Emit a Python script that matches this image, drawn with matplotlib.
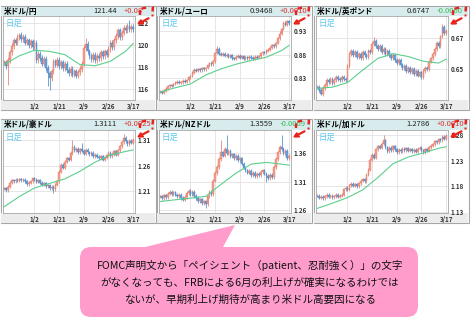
import numpy as np
import matplotlib.pyplot as plt
from matplotlib.patches import Rectangle, FancyBboxPatch, Polygon

plt.rcParams['font.family'] = ['Noto Sans CJK JP', 'DejaVu Sans']

W, H = 474, 321

titles = ['米ドル/円', '米ドル/ユーロ', '米ドル/英ポンド', '米ドル/豪ドル', '米ドル/NZドル', '米ドル/加ドル']
prices = ['121.44', '0.9468', '0.6747', '1.3111', '1.3559', '1.2786']
changes = ['+0.08', '+0.0010', '-0.0060', '+0.0025', '-0.0009', '+0.0010']

date_labels = ['1/2', '1/21', '2/9', '2/26', '3/17']
date_idx = [16, 29, 42, 55, 68]
ma_idx = [0, 8, 16, 24, 32, 40, 48, 56, 64, 68]

# daily closes
jpy_close = [118.4, 118.1, 118.6, 119.3, 119.9, 120.4, 120.2, 120.7, 120.9, 120.5,
             120.7, 120.2, 120.4, 120.0, 120.3, 119.8, 120.2, 118.6, 119.2, 118.8,
             118.3, 118.7, 117.9, 117.4, 117.0, 117.6, 118.5, 118.2, 118.6, 118.1,
             118.4, 117.9, 118.3, 117.7, 117.4, 117.8, 117.3, 117.6, 117.2, 117.5,
             117.8, 118.3, 119.7, 120.1, 119.4, 119.0, 118.7, 119.1, 118.6, 119.0,
             118.8, 119.3, 119.0, 119.4, 119.1, 119.6, 120.2, 119.8, 120.4, 120.8,
             121.3, 120.7, 121.1, 121.5, 121.3, 121.7, 121.4, 121.6, 121.44]
eur_close = [0.802, 0.799, 0.804, 0.808, 0.813, 0.816, 0.814, 0.818, 0.821, 0.823,
             0.820, 0.822, 0.825, 0.823, 0.826, 0.832, 0.835, 0.842, 0.848, 0.846,
             0.849, 0.847, 0.851, 0.849, 0.852, 0.858, 0.862, 0.860, 0.866, 0.884,
             0.893, 0.882, 0.880, 0.882, 0.878, 0.880, 0.876, 0.879, 0.873, 0.871,
             0.876, 0.878, 0.874, 0.877, 0.872, 0.875, 0.873, 0.876, 0.874, 0.872,
             0.876, 0.874, 0.877, 0.883, 0.886, 0.884, 0.889, 0.891, 0.895, 0.900,
             0.898, 0.905, 0.915, 0.925, 0.935, 0.948, 0.944, 0.951, 0.9468]
gbp_close = [0.639, 0.637, 0.634, 0.638, 0.640, 0.643, 0.642, 0.644, 0.641, 0.643,
             0.645, 0.644, 0.643, 0.645, 0.644, 0.643, 0.652, 0.660, 0.662, 0.659,
             0.661, 0.658, 0.660, 0.657, 0.661, 0.659, 0.658, 0.662, 0.661, 0.666,
             0.668, 0.665, 0.663, 0.665, 0.661, 0.663, 0.660, 0.662, 0.659, 0.657,
             0.659, 0.656, 0.654, 0.656, 0.653, 0.651, 0.652, 0.649, 0.651, 0.648,
             0.650, 0.647, 0.649, 0.646, 0.648, 0.645, 0.649, 0.651, 0.650, 0.655,
             0.657, 0.660, 0.663, 0.667, 0.665, 0.671, 0.677, 0.673, 0.6747]
aud_close = [1.215, 1.212, 1.218, 1.226, 1.231, 1.229, 1.232, 1.230, 1.233, 1.231,
             1.232, 1.229, 1.223, 1.226, 1.229, 1.235, 1.232, 1.228, 1.231, 1.226,
             1.222, 1.225, 1.219, 1.221, 1.215, 1.218, 1.213, 1.222, 1.229, 1.248,
             1.262, 1.256, 1.268, 1.275, 1.272, 1.285, 1.297, 1.290, 1.293, 1.287,
             1.292, 1.289, 1.284, 1.291, 1.286, 1.283, 1.285, 1.279, 1.282, 1.278,
             1.275, 1.279, 1.272, 1.276, 1.281, 1.285, 1.279, 1.283, 1.288, 1.282,
             1.290, 1.298, 1.306, 1.315, 1.308, 1.302, 1.309, 1.305, 1.3111]
nzd_close = [1.284, 1.281, 1.286, 1.283, 1.289, 1.292, 1.288, 1.291, 1.287, 1.284,
             1.287, 1.281, 1.278, 1.283, 1.290, 1.294, 1.288, 1.292, 1.285, 1.281,
             1.276, 1.279, 1.272, 1.275, 1.270, 1.284, 1.292, 1.288, 1.312, 1.325,
             1.336, 1.350, 1.362, 1.356, 1.368, 1.360, 1.364, 1.355, 1.358, 1.352,
             1.356, 1.348, 1.351, 1.342, 1.335, 1.330, 1.326, 1.329, 1.322, 1.325,
             1.320, 1.324, 1.321, 1.327, 1.330, 1.324, 1.320, 1.316, 1.322, 1.318,
             1.336, 1.350, 1.362, 1.372, 1.368, 1.360, 1.364, 1.352, 1.3559]
cad_close = [1.162, 1.158, 1.160, 1.157, 1.161, 1.163, 1.160, 1.162, 1.159, 1.161,
             1.163, 1.160, 1.162, 1.164, 1.174, 1.177, 1.173, 1.182, 1.185, 1.181,
             1.184, 1.180, 1.186, 1.191, 1.194, 1.190, 1.203, 1.212, 1.232, 1.241,
             1.236, 1.252, 1.258, 1.255, 1.263, 1.270, 1.256, 1.248, 1.255, 1.250,
             1.258, 1.252, 1.246, 1.251, 1.248, 1.253, 1.250, 1.254, 1.249, 1.252,
             1.248, 1.251, 1.247, 1.253, 1.255, 1.250, 1.246, 1.252, 1.249, 1.256,
             1.259, 1.262, 1.268, 1.266, 1.272, 1.270, 1.276, 1.273, 1.2786]

# moving average (green line) at ma_idx
jpy_ma = [118.2, 119.0, 119.5, 119.4, 119.1, 118.2, 118.1, 118.5, 119.4, 120.1]
eur_ma = [0.801, 0.810, 0.818, 0.837, 0.850, 0.860, 0.868, 0.875, 0.889, 0.900]
gbp_ma = [0.6378, 0.6386, 0.6415, 0.6495, 0.6570, 0.6600, 0.6582, 0.6552, 0.6540, 0.6565]
aud_ma = [1.179, 1.199, 1.216, 1.225, 1.234, 1.249, 1.267, 1.281, 1.288, 1.291]
nzd_ma = [1.275, 1.278, 1.281, 1.284, 1.305, 1.325, 1.341, 1.344, 1.341, 1.339]
cad_ma = [1.137, 1.147, 1.158, 1.173, 1.197, 1.224, 1.237, 1.245, 1.254, 1.257]

# long wicks
jpy_hi = {8: 121.1, 43: 120.6, 66: 122.2}
jpy_lo = {2: 116.4, 23: 116.3, 24: 115.9}
eur_hi = {30: 0.898, 63: 0.930}
eur_lo = {}
gbp_hi = {30: 0.6705, 66: 0.679}
gbp_lo = {2: 0.6335}
aud_hi = {36: 1.310, 41: 1.305, 63: 1.322}
aud_lo = {26: 1.207}
nzd_hi = {32: 1.383, 35: 1.392, 64: 1.392}
nzd_lo = {24: 1.263, 56: 1.310}
cad_hi = {35: 1.280}
cad_lo = {}

yticks = [[116, 118, 120, 122], [0.83, 0.88, 0.93], [0.65, 0.67],
          [1.21, 1.26, 1.31], [1.26, 1.31, 1.36], [1.13, 1.18, 1.23, 1.28]]
ytick_labels = [['116', '118', '120', '122'], ['0.83', '0.88', '0.93'], ['0.65', '0.67'],
                ['1.21', '1.26', '1.31'], ['1.26', '1.31', '1.36'], ['1.13', '1.18', '1.23', '1.28']]
ylims = [(115.0, 122.6), (0.784, 0.9625), (0.6304, 0.6841),
         (1.1666, 1.3304), (1.2547, 1.4012), (1.128, 1.2897)]

closes = [jpy_close, eur_close, gbp_close, aud_close, nzd_close, cad_close]
mas = [jpy_ma, eur_ma, gbp_ma, aud_ma, nzd_ma, cad_ma]
his = [jpy_hi, eur_hi, gbp_hi, aud_hi, nzd_hi, cad_hi]
los = [jpy_lo, eur_lo, gbp_lo, aud_lo, nzd_lo, cad_lo]
wicks = [0.25, 0.003, 0.0012, 0.003, 0.003, 0.003]

col_left = [1, 157, 314]
row_top = [6, 119]
plot_top = [16, 130]
plot_bot = [100, 213]
strip_bot = [110, 223]

UP_FC, UP_EC = '#f2a293', '#e0705c'
DN_FC, DN_EC = '#6aa6de', '#3a80c6'
RED = '#e8231b'


def frac(x0, y0, w, h):
    return [x0 / W, 1 - (y0 + h) / H, w / W, h / H]


fig = plt.figure(figsize=(W / 100, H / 100), dpi=100)
fig.patch.set_facecolor('white')

bg = fig.add_axes([0, 0, 1, 1], zorder=0)
bg.set_xlim(0, W); bg.set_ylim(H, 0); bg.axis('off')
fg = fig.add_axes([0, 0, 1, 1], zorder=5)
fg.set_xlim(0, W); fg.set_ylim(H, 0); fg.axis('off')
fg.patch.set_alpha(0)

for k in range(6):
    r, cidx = divmod(k, 3)
    P = col_left[cidx]
    top = row_top[r]
    # panel frame, header and date strip
    bg.add_patch(Rectangle((P, top), 155, strip_bot[r] - top, fc='white', ec='#a6a6a6', lw=0.8))
    bg.add_patch(Rectangle((P + 0.5, top + 0.5), 154, plot_top[r] - top - 0.5, fc='#d8ecee', ec='none'))
    bg.add_patch(Rectangle((P + 0.5, plot_bot[r]), 154, strip_bot[r] - plot_bot[r] - 0.5, fc='#ececec', ec='none'))
    hy = (top + plot_top[r]) / 2
    bg.text(P + 3, hy, titles[k], fontsize=5.5, fontweight='bold', va='center', ha='left')
    bg.text(P + 116, hy, prices[k], fontsize=5.5, va='center', ha='right', color='#222222')
    bg.text(P + 123, hy, changes[k], fontsize=5.5, va='center', ha='left',
            color='#e03030' if changes[k].startswith('+') else '#33bb55')

    ax = fig.add_axes(frac(P + 2, plot_top[r], 132, plot_bot[r] - plot_top[r]), zorder=2)
    c = np.array(closes[k])
    o = np.r_[c[0], c[:-1]]
    x = np.arange(len(c))
    up = c >= o
    hi = np.maximum(o, c) + wicks[k]
    lo = np.minimum(o, c) - wicks[k]
    for i, v in his[k].items():
        hi[i] = v
    for i, v in los[k].items():
        lo[i] = v
    ax.vlines(x, lo, hi, colors=np.where(up, UP_EC, DN_EC), lw=0.5, zorder=2)
    ax.bar(x, c - o, bottom=o, width=0.85, color=np.where(up, UP_FC, DN_FC),
           edgecolor=np.where(up, UP_EC, DN_EC), lw=0.3, zorder=3)
    ax.plot(ma_idx, mas[k], color='#5ccf8c', lw=0.8, zorder=4)

    ax.set_xlim(-0.6, 69.0)
    ax.set_ylim(*ylims[k])
    ax.set_xticks(date_idx)
    ax.set_xticklabels(date_labels)
    ax.set_yticks(yticks[k])
    ax.set_yticklabels(ytick_labels[k])
    ax.yaxis.tick_right()
    ax.tick_params(axis='both', length=0, labelsize=4.5, colors='#333333')
    ax.tick_params(axis='x', pad=2)
    ax.tick_params(axis='y', pad=2)
    for lab in ax.get_xticklabels() + ax.get_yticklabels():
        lab.set_fontweight('bold')
    ax.grid(True, color='#e2e2e2', lw=0.6)
    ax.set_axisbelow(True)
    for s in ax.spines.values():
        s.set_color('#a6a6a6'); s.set_linewidth(0.6)
    ax.text(0.02, 0.97, '日足', transform=ax.transAxes, fontsize=6, color='#5cc6ee',
            va='top', ha='left')

    # red dashed attention mark: corner, "!" and arrow toward the last candle
    fg.plot([P + 139, P + 139, P + 148], [top + 9, top + 3, top + 1],
            color=RED, lw=1.7, ls=(0, (2, 1.2)))
    fg.plot([P + 152, P + 151.5], [top + 0.5, top + 6.5], color=RED, lw=1.8, ls=(0, (2, 1)))
    fg.plot([P + 151.2], [top + 9], marker='s', ms=1.6, color=RED, mec='none')
    fg.annotate('', xy=(P + 133, top + 20), xytext=(P + 150, top + 11),
                arrowprops=dict(arrowstyle='->', ls='--', color=RED, lw=1.6,
                                mutation_scale=7))

# callout
PINK = '#ff9ccc'
fg.add_patch(Polygon([(137, 249), (235, 225), (222, 249)], closed=True, fc=PINK, ec='none'))
fg.add_patch(FancyBboxPatch((80, 247), 338, 70, boxstyle='round,pad=0,rounding_size=11',
                            fc=PINK, ec='none'))
callout_lines = ['FOMC声明文から「ペイシェント（patient、忍耐強く）」の文字',
                 'がなくなっても、FRBによる6月の利上げが確実になるわけでは',
                 'ないが、早期利上げ期待が高まり米ドル高要因になる']
for j, line in enumerate(callout_lines):
    fg.text(250, 265 + 17.5 * j, line, fontsize=7.6, ha='center', va='center', color='#111111')

fig.savefig('out.png', dpi=100)
